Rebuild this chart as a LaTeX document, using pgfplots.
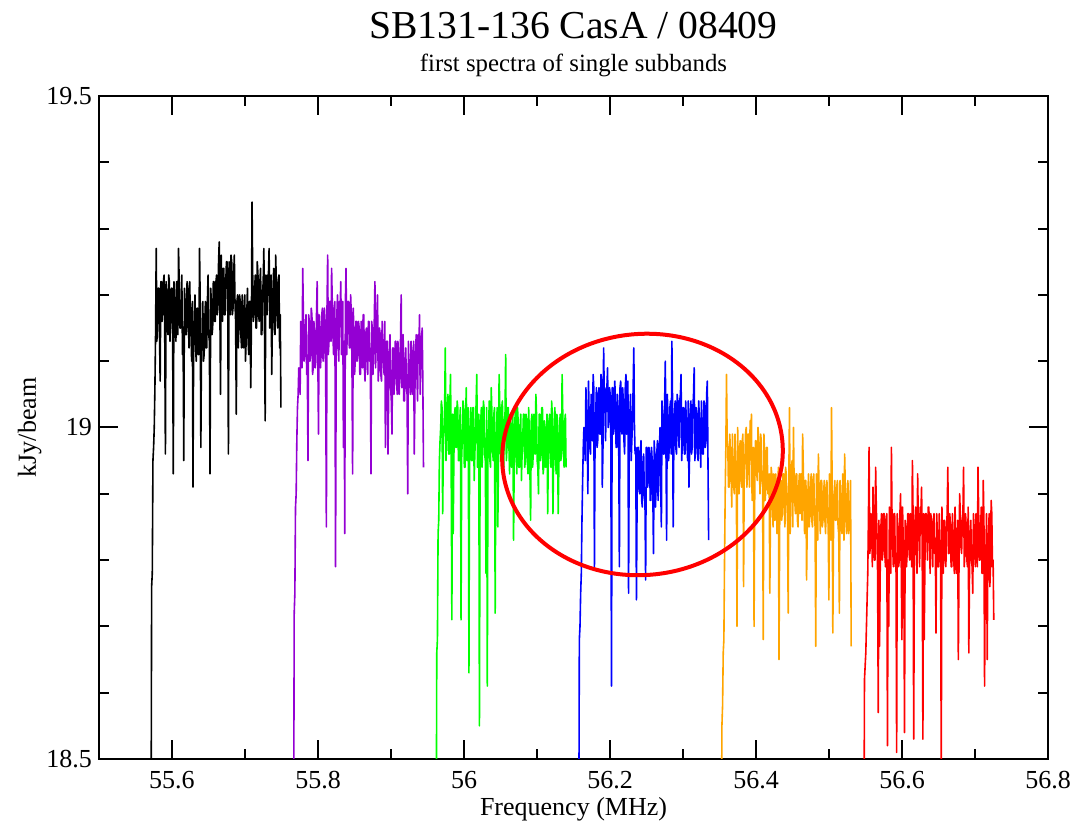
\documentclass[border=0pt]{standalone}
\usepackage{fontspec}
\setmainfont{Liberation Serif}
\usepackage{pgfplots}
\pgfplotsset{compat=1.18}
\usepackage{pgfplotstable}

\definecolor{gviolet}{RGB}{148,0,211}
\definecolor{ggreen}{RGB}{0,255,0}
\definecolor{gblue}{RGB}{0,0,255}
\definecolor{gorange}{RGB}{255,165,0}
\definecolor{gred}{RGB}{255,0,0}

% one value per channel (199 channels per subband, evenly spaced)
\pgfplotstableread[row sep=\\]{v\\
18.30\\18.76\\18.78\\18.95\\18.97\\19.00\\19.06\\19.14\\19.27\\19.13\\19.16\\19.21\\19.21\\19.14\\19.07\\19.22\\19.22\\19.16\\19.18\\19.22\\
19.23\\19.14\\18.96\\19.22\\19.20\\19.15\\19.14\\19.23\\19.22\\19.13\\19.17\\19.21\\19.21\\19.14\\18.93\\19.22\\19.19\\19.16\\19.13\\19.22\\
19.20\\19.14\\19.27\\19.22\\19.15\\19.15\\19.18\\19.23\\19.11\\19.13\\18.95\\19.21\\19.19\\19.14\\19.14\\19.22\\19.21\\19.16\\19.12\\19.22\\
19.17\\19.14\\19.10\\19.19\\18.91\\19.12\\19.16\\19.20\\19.12\\19.10\\19.18\\19.18\\19.11\\19.11\\19.27\\19.19\\18.97\\19.13\\19.13\\19.19\\
19.10\\19.11\\19.16\\19.19\\19.12\\19.12\\19.19\\19.23\\19.14\\19.13\\18.93\\19.21\\19.19\\19.14\\19.15\\19.22\\19.22\\19.16\\19.16\\19.22\\
19.23\\19.17\\19.18\\19.25\\19.28\\19.18\\19.05\\19.26\\19.20\\19.16\\19.24\\19.24\\19.17\\19.17\\19.22\\19.25\\19.25\\19.19\\18.96\\19.25\\
19.21\\19.17\\19.26\\19.25\\19.17\\19.18\\19.23\\19.26\\19.19\\19.16\\19.02\\19.19\\19.20\\19.12\\19.15\\19.20\\19.19\\19.14\\19.12\\19.20\\
19.18\\19.12\\19.14\\19.20\\19.10\\19.13\\19.17\\19.21\\19.13\\19.11\\19.19\\19.19\\19.06\\19.15\\19.34\\19.23\\19.16\\19.17\\19.21\\19.23\\
19.15\\19.15\\19.25\\19.23\\19.17\\19.16\\19.22\\19.24\\19.14\\19.14\\19.20\\19.22\\19.27\\19.15\\19.01\\19.23\\19.19\\19.17\\19.23\\19.23\\
19.27\\19.15\\19.16\\19.23\\19.08\\19.16\\19.21\\19.24\\19.15\\19.14\\19.26\\19.22\\19.17\\19.15\\19.22\\19.23\\19.12\\19.17\\19.03\\
}\tblack

\pgfplotstableread[row sep=\\]{v\\
18.30\\18.72\\18.75\\18.88\\18.90\\18.98\\19.03\\19.05\\19.09\\19.08\\19.05\\19.16\\19.13\\19.09\\19.24\\19.17\\19.10\\19.11\\19.15\\19.17\\
19.08\\19.09\\18.95\\19.17\\19.16\\19.10\\19.11\\19.18\\19.17\\19.08\\19.09\\19.16\\19.14\\19.09\\19.10\\19.17\\19.22\\19.11\\18.99\\19.17\\
19.15\\19.09\\19.11\\19.17\\19.18\\19.10\\19.12\\19.18\\19.16\\19.08\\18.85\\19.18\\19.26\\19.11\\19.13\\19.19\\19.19\\19.13\\19.24\\19.19\\
19.14\\19.11\\19.18\\19.19\\18.79\\19.12\\19.17\\19.20\\19.12\\19.10\\19.19\\19.18\\19.22\\19.11\\19.14\\19.19\\18.97\\19.13\\18.84\\19.19\\
19.24\\19.11\\19.15\\19.19\\19.19\\19.12\\19.12\\19.20\\19.17\\19.10\\18.93\\19.18\\19.14\\19.08\\19.10\\19.16\\19.16\\19.10\\19.11\\19.16\\
19.15\\19.08\\19.08\\19.16\\19.13\\19.09\\19.17\\19.17\\19.09\\19.07\\19.14\\19.15\\19.11\\19.08\\19.16\\19.16\\19.10\\19.10\\18.93\\19.16\\
19.15\\19.08\\19.12\\19.16\\19.22\\19.09\\19.13\\19.17\\19.20\\19.07\\19.09\\19.15\\19.14\\19.08\\19.07\\19.16\\19.12\\19.10\\19.08\\19.16\\
18.97\\19.05\\19.13\\19.13\\18.96\\19.06\\19.11\\19.14\\19.06\\19.04\\18.99\\19.12\\19.12\\19.05\\19.07\\19.13\\19.13\\19.07\\19.05\\19.13\\
19.11\\19.05\\19.08\\19.13\\19.20\\19.06\\19.09\\19.14\\19.04\\19.04\\19.10\\19.12\\19.06\\19.05\\18.90\\19.13\\19.09\\19.07\\19.05\\19.13\\
19.11\\19.05\\19.07\\19.13\\18.96\\19.06\\19.12\\19.14\\19.08\\19.04\\19.14\\19.12\\19.17\\19.05\\19.10\\19.13\\19.15\\19.07\\18.94\\
}\tviolet

\pgfplotstableread[row sep=\\]{v\\
18.30\\18.66\\18.68\\18.84\\18.86\\18.95\\18.98\\19.00\\19.04\\19.03\\18.87\\18.97\\19.00\\19.03\\19.12\\18.95\\18.99\\19.03\\19.05\\18.96\\
18.96\\19.04\\19.08\\18.94\\18.71\\19.02\\18.84\\18.95\\19.02\\19.03\\18.97\\18.97\\19.04\\19.03\\18.95\\18.95\\19.01\\19.03\\18.71\\18.96\\
18.98\\19.04\\19.03\\18.94\\18.94\\19.02\\19.06\\18.95\\18.97\\19.03\\18.63\\18.97\\19.00\\19.03\\18.95\\18.95\\19.03\\19.03\\18.92\\18.96\\
18.99\\19.04\\19.08\\18.94\\18.96\\19.02\\18.55\\18.95\\19.01\\19.03\\18.94\\18.97\\19.04\\19.03\\18.96\\18.95\\18.78\\19.03\\18.61\\18.96\\
19.00\\19.04\\18.95\\18.94\\19.06\\19.02\\18.97\\18.95\\19.02\\19.03\\18.72\\18.97\\18.99\\19.03\\18.85\\18.95\\19.08\\19.03\\18.96\\18.96\\
19.03\\19.04\\18.94\\18.94\\19.01\\19.02\\19.11\\18.95\\18.97\\19.03\\19.03\\18.97\\18.93\\19.02\\19.00\\18.94\\18.95\\19.02\\18.83\\18.95\\
19.01\\19.03\\18.96\\18.93\\19.03\\19.01\\18.94\\18.94\\19.00\\19.02\\18.92\\18.96\\18.98\\19.02\\19.02\\18.94\\18.95\\19.02\\19.01\\18.95\\
18.93\\19.03\\18.99\\18.93\\18.86\\19.01\\19.02\\18.94\\18.96\\19.02\\19.01\\18.96\\19.05\\19.02\\18.95\\18.94\\18.90\\19.02\\19.02\\18.95\\
18.96\\19.03\\19.03\\18.93\\18.94\\19.01\\19.00\\18.94\\18.95\\19.02\\18.87\\18.96\\19.01\\19.02\\18.96\\18.94\\19.04\\19.02\\18.87\\18.95\\
19.00\\19.03\\18.95\\18.93\\19.02\\19.01\\18.87\\18.94\\18.99\\19.02\\18.95\\18.96\\19.08\\19.02\\18.97\\18.94\\19.01\\19.02\\18.94\\
}\tgreen

\pgfplotstableread[row sep=\\]{v\\
18.30\\18.68\\18.70\\18.75\\18.78\\18.86\\18.92\\18.97\\19.00\\18.98\\18.95\\19.06\\19.02\\18.99\\18.90\\19.07\\19.01\\18.97\\18.96\\19.05\\
19.04\\18.98\\19.08\\19.06\\18.79\\19.00\\19.02\\19.06\\18.97\\18.98\\19.05\\19.06\\18.99\\18.99\\19.08\\19.07\\18.91\\18.97\\19.12\\19.05\\
19.03\\18.98\\19.06\\19.06\\19.09\\19.00\\19.01\\19.06\\19.05\\18.98\\18.61\\19.06\\19.06\\18.99\\19.00\\19.07\\19.04\\18.97\\18.97\\19.05\\
19.03\\18.98\\18.79\\19.06\\19.07\\19.00\\18.99\\19.06\\19.04\\18.98\\18.96\\19.06\\19.08\\18.99\\19.00\\19.07\\18.75\\18.97\\19.02\\19.05\\
18.95\\18.98\\19.01\\19.06\\19.12\\19.00\\18.96\\18.97\\18.74\\18.89\\18.97\\18.97\\18.91\\18.90\\18.96\\18.98\\18.89\\18.88\\18.94\\18.96\\
18.90\\18.89\\18.77\\18.97\\18.97\\18.91\\18.92\\18.97\\18.96\\18.89\\18.89\\18.97\\18.95\\18.90\\18.81\\18.98\\18.96\\18.88\\18.91\\18.96\\
18.98\\18.89\\18.93\\18.97\\19.00\\18.91\\18.85\\19.04\\19.01\\18.96\\18.96\\19.04\\19.10\\18.97\\18.83\\19.05\\19.02\\18.95\\18.97\\19.03\\
19.04\\18.96\\19.13\\19.04\\18.85\\18.98\\19.02\\19.04\\18.97\\18.96\\19.05\\19.04\\18.99\\18.97\\19.04\\19.05\\19.08\\18.95\\18.98\\19.03\\
19.03\\18.96\\18.96\\19.04\\19.01\\18.98\\18.95\\19.04\\18.91\\18.96\\19.02\\19.04\\18.96\\18.97\\19.03\\19.05\\19.09\\18.95\\18.97\\19.03\\
19.02\\18.96\\18.95\\19.04\\19.00\\18.98\\18.94\\19.04\\19.01\\18.96\\18.96\\19.04\\19.03\\18.97\\18.98\\19.05\\19.07\\18.95\\18.83\\
}\tblue

\pgfplotstableread[row sep=\\]{v\\
18.30\\18.55\\18.58\\18.66\\18.68\\18.80\\18.90\\18.97\\19.08\\18.98\\18.97\\18.91\\18.91\\18.99\\18.96\\18.93\\18.88\\18.99\\18.94\\18.91\\
18.90\\18.99\\18.95\\18.92\\18.70\\19.00\\18.93\\18.90\\18.97\\18.98\\18.92\\18.91\\18.98\\18.99\\18.76\\18.93\\18.95\\18.99\\19.00\\18.91\\
18.93\\18.99\\18.99\\18.91\\19.01\\18.99\\19.02\\18.89\\18.96\\18.97\\18.70\\18.90\\18.98\\18.98\\18.93\\18.92\\19.00\\18.98\\18.95\\18.90\\
18.99\\18.98\\18.92\\18.91\\18.68\\18.99\\18.96\\18.89\\18.91\\18.97\\18.97\\18.90\\18.90\\18.93\\18.75\\18.87\\18.94\\18.93\\18.88\\18.85\\
18.93\\18.86\\18.86\\18.93\\18.91\\18.84\\18.87\\18.94\\18.65\\18.85\\18.92\\18.92\\18.86\\18.87\\18.93\\18.93\\18.88\\18.85\\18.94\\18.93\\
18.89\\18.86\\18.72\\18.93\\19.03\\18.84\\18.90\\18.94\\18.95\\18.85\\19.00\\18.92\\18.89\\18.87\\18.93\\18.93\\18.86\\18.85\\18.91\\18.93\\
18.87\\18.93\\18.93\\18.86\\18.99\\18.94\\18.88\\18.84\\18.92\\18.92\\18.77\\18.85\\18.90\\18.93\\18.85\\18.87\\18.91\\18.93\\18.86\\18.85\\
18.92\\18.93\\18.87\\18.85\\18.67\\18.93\\18.91\\18.83\\18.96\\18.91\\18.88\\18.84\\18.92\\18.92\\18.85\\18.86\\18.90\\18.92\\18.86\\18.84\\
18.91\\18.92\\18.87\\18.85\\18.74\\18.93\\18.92\\18.83\\19.03\\18.91\\18.69\\18.84\\18.90\\18.92\\18.86\\18.86\\18.91\\18.92\\18.85\\18.84\\
18.72\\18.92\\18.89\\18.85\\18.84\\18.93\\18.90\\18.83\\18.96\\18.91\\18.86\\18.84\\18.90\\18.92\\18.84\\18.86\\18.88\\18.92\\18.67\\
}\torange

\pgfplotstableread[row sep=\\]{v\\
18.30\\18.62\\18.64\\18.66\\18.70\\18.74\\18.78\\18.86\\18.97\\18.81\\18.82\\18.87\\18.86\\18.79\\18.91\\18.87\\18.80\\18.80\\18.94\\18.88\\
18.84\\18.78\\18.57\\18.86\\18.67\\18.79\\18.85\\18.87\\18.80\\18.81\\18.87\\18.87\\18.81\\18.79\\18.86\\18.87\\18.52\\18.80\\18.70\\18.88\\
18.85\\18.78\\18.97\\18.86\\18.82\\18.79\\18.87\\18.87\\18.79\\18.81\\18.51\\18.87\\18.84\\18.79\\18.80\\18.87\\18.90\\18.80\\18.68\\18.88\\
18.83\\18.78\\18.54\\18.86\\18.85\\18.79\\18.81\\18.87\\18.87\\18.81\\18.80\\18.87\\18.86\\18.79\\18.95\\18.87\\18.53\\18.80\\18.86\\18.88\\
18.82\\18.78\\18.93\\18.86\\18.84\\18.79\\18.88\\18.87\\18.91\\18.81\\18.53\\18.87\\18.68\\18.79\\18.87\\18.87\\18.84\\18.80\\18.88\\18.88\\
18.85\\18.78\\18.87\\18.86\\18.83\\18.79\\18.86\\18.87\\18.81\\18.81\\18.69\\18.87\\18.84\\18.79\\18.79\\18.87\\18.83\\18.80\\18.48\\18.88\\
18.82\\18.78\\18.86\\18.86\\18.80\\18.79\\18.85\\18.87\\18.94\\18.81\\18.81\\18.87\\18.85\\18.79\\18.79\\18.87\\18.84\\18.80\\18.78\\18.88\\
18.83\\18.78\\18.80\\18.86\\18.65\\18.79\\18.90\\18.87\\18.82\\18.81\\18.86\\18.87\\18.94\\18.79\\18.81\\18.87\\18.85\\18.80\\18.79\\18.88\\
18.66\\18.78\\18.84\\18.86\\18.80\\18.79\\18.75\\18.87\\18.85\\18.81\\18.79\\18.87\\18.84\\18.79\\18.94\\18.87\\18.80\\18.80\\18.85\\18.88\\
18.78\\18.78\\18.92\\18.86\\18.61\\18.79\\18.81\\18.87\\18.65\\18.81\\18.84\\18.87\\18.76\\18.79\\18.89\\18.87\\18.79\\18.80\\18.71\\
}\tred

\begin{document}
\begin{tikzpicture}
\begin{axis}[
  at={(0,0)}, anchor=south west,
  scale only axis, width=474.5pt, height=331.5pt,
  xmin=55.5, xmax=56.8, ymin=18.5, ymax=19.5,
  xtick={55.6,55.8,56,56.2,56.4,56.6,56.8},
  xticklabels={55.6,55.8,56,56.2,56.4,56.6,56.8},
  minor x tick num=1,
  ytick={18.5,19,19.5},
  yticklabels={18.5,19,19.5},
  minor y tick num=4,
  tick align=inside,
  major tick length=9.5pt, minor tick length=5pt,
  every tick/.style={black, line width=1pt},
  axis line style={line width=1pt},
  tick label style={font=\fontsize{13}{15}\selectfont},
  xticklabel style={yshift=-2.7pt},
  clip=true,
  every axis plot/.append style={line width=0.8pt, line join=round, mark=none},
]
\addplot[black]   table[x expr={55.5712+\coordindex*0.000899}, y=v] {\tblack};
\addplot[gviolet] table[x expr={55.7665+\coordindex*0.000899}, y=v] {\tviolet};
\addplot[ggreen]  table[x expr={55.9618+\coordindex*0.000899}, y=v] {\tgreen};
\addplot[gblue]   table[x expr={56.1571+\coordindex*0.000899}, y=v] {\tblue};
\addplot[gorange] table[x expr={56.3524+\coordindex*0.000899}, y=v] {\torange};
\addplot[gred]    table[x expr={56.5477+\coordindex*0.000899}, y=v] {\tred};
\draw[gred, line width=2pt, rotate around={6:(axis cs:56.2445,18.9593)}]
  (axis cs:56.2445,18.9593) ellipse [x radius=70.25pt, y radius=60.25pt];
\end{axis}
\node[anchor=base, font=\fontsize{19.8}{24}\selectfont] at (237.25pt,360pt) {SB131-136 CasA / 08409};
\node[anchor=base, font=\fontsize{12.4}{15}\selectfont] at (237.25pt,343.5pt) {first spectra of single subbands};
\node[anchor=base, font=\fontsize{13}{15}\selectfont] at (237.25pt,-28.5pt) {Frequency (MHz)};
\node[anchor=base, rotate=90, font=\fontsize{13}{15}\selectfont] at (-31.5pt,165.75pt) {kJy/beam};
\pgfresetboundingbox
\useasboundingbox (-49.5pt,-32pt) rectangle (488pt,379.5pt);
\end{tikzpicture}
\end{document}
